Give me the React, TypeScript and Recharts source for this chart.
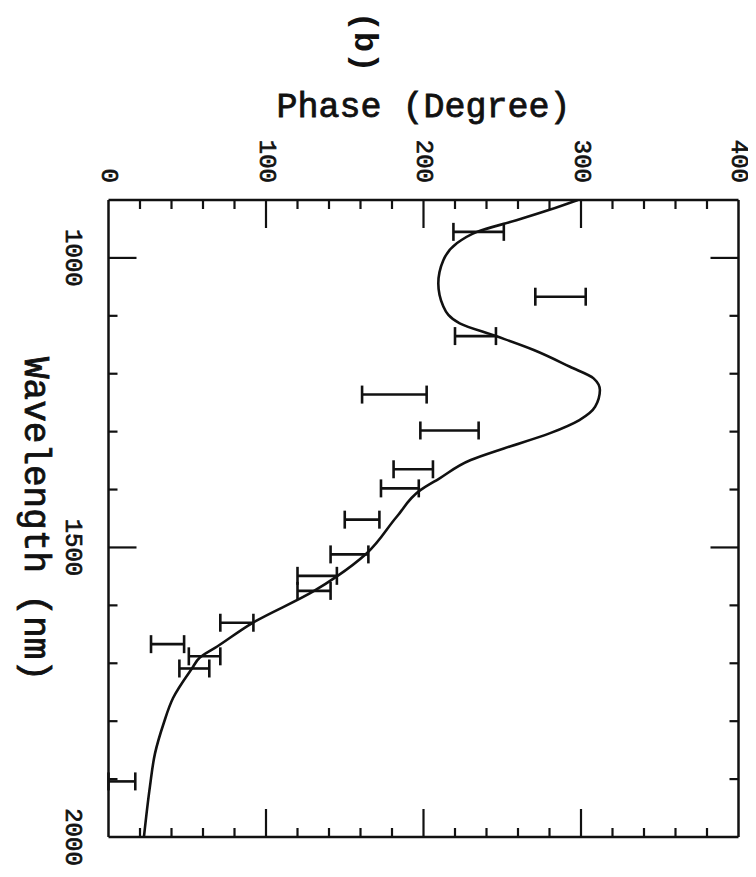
import React from 'react';
import { ComposedChart, Line, Scatter, ErrorBar, XAxis, YAxis } from 'recharts';

// Model curve (wavelength in nm -> phase in degrees)
const curveWavelength = [900, 917, 935, 955, 975, 1004, 1044, 1084, 1113, 1135, 1159, 1188, 1208, 1228, 1257, 1280, 1303, 1329, 1349, 1381, 1401, 1447, 1510, 1550, 1576, 1631, 1671, 1690, 1709, 1760, 1804, 1856, 1913, 2000];
const curvePhase = [298, 280, 259, 234, 221, 212.6, 209.4, 212.6, 223, 246, 270, 293, 308, 312, 309, 299, 280, 251, 230, 210, 198, 183, 164, 145, 130, 91, 69, 58, 53, 41, 35, 29.5, 26.3, 22.5];

// Measured phase ranges (error bars)
const barWavelength = [955, 1067, 1135, 1236, 1298, 1365, 1398, 1452, 1512, 1549, 1575, 1630, 1667, 1688, 1709, 1904];
const barPhaseLow = [219, 271, 220, 161, 198, 181, 173, 150, 141, 120, 120, 71, 27, 51, 45, 0];
const barPhaseHigh = [251, 303, 246, 202, 235, 206, 197, 172, 165, 145, 141, 92, 48, 71, 64, 17];

// Axis ticks
const phaseMajorTicks = [0, 100, 200, 300, 400];
const phaseMinorTicks = [20, 40, 60, 80, 120, 140, 160, 180, 220, 240, 260, 280, 320, 340, 360, 380];
const wavelengthMajorTicks = [1000, 1500, 2000];
const wavelengthMinorTicks = [1100, 1200, 1300, 1400, 1600, 1700, 1800, 1900];

const phaseTicks = [...phaseMajorTicks, ...phaseMinorTicks].sort((a, b) => a - b);
const wavelengthTicks = [...wavelengthMajorTicks, ...wavelengthMinorTicks].sort((a, b) => a - b);

const curveData = curveWavelength.map((wl, i) => ({ wl, phase: curvePhase[i] }));
const barData = barWavelength.map((wl, i) => {
  const lo = barPhaseLow[i];
  const hi = barPhaseHigh[i];
  const c = (lo + hi) / 2;
  return { wl, phase: c, err: [c - lo, hi - c] };
});

const FONT = '"Liberation Mono", "DejaVu Sans Mono", monospace';
const INK = '#111';
const MAJOR = 28;
const MINOR = 9;

const isMajorPhase = (v: number) => phaseMajorTicks.includes(v);
const isMajorWl = (v: number) => wavelengthMajorTicks.includes(v);

const TopTick = (props: any) => {
  const { x, y, payload } = props;
  const v = payload.value;
  const major = isMajorPhase(v);
  const len = major ? MAJOR : MINOR;
  const ly = y - 17;
  return (
    <g>
      {v > 0 && v < 400 && <line x1={x} y1={y} x2={x} y2={y + len} stroke={INK} strokeWidth={2.2} />}
      {major && (
        <text
          x={x}
          y={ly}
          transform={`rotate(90 ${x} ${ly})`}
          textAnchor="end"
          dominantBaseline="central"
          fontFamily={FONT}
          fontSize={24}
          fill={INK}
          stroke={INK}
          strokeWidth={0.7}
        >
          {v}
        </text>
      )}
    </g>
  );
};

const BottomTick = (props: any) => {
  const { x, y, payload } = props;
  const v = payload.value;
  const len = isMajorPhase(v) ? MAJOR : MINOR;
  if (v <= 0 || v >= 400) return <g />;
  return <line x1={x} y1={y} x2={x} y2={y - len} stroke={INK} strokeWidth={2.2} />;
};

const LeftTick = (props: any) => {
  const { x, y, payload } = props;
  const v = payload.value;
  const major = isMajorWl(v);
  const len = major ? MAJOR : MINOR;
  const lx = x - 36;
  return (
    <g>
      {v > 900 && v < 2000 && <line x1={x} y1={y} x2={x + len} y2={y} stroke={INK} strokeWidth={2.2} />}
      {major && (
        <text
          x={lx}
          y={y}
          transform={`rotate(90 ${lx} ${y})`}
          textAnchor="middle"
          dominantBaseline="central"
          fontFamily={FONT}
          fontSize={24}
          fill={INK}
          stroke={INK}
          strokeWidth={0.7}
        >
          {v}
        </text>
      )}
    </g>
  );
};

const RightTick = (props: any) => {
  const { x, y, payload } = props;
  const v = payload.value;
  const len = isMajorWl(v) ? MAJOR : MINOR;
  if (v <= 900 || v >= 2000) return <g />;
  return <line x1={x} y1={y} x2={x - len} y2={y} stroke={INK} strokeWidth={2.2} />;
};

const NoShape = () => <g />;

export default function App() {
  const axisLine = { stroke: INK, strokeWidth: 2.5 };
  return (
    <div style={{ position: 'relative', width: 748, height: 869, background: '#fff' }}>
      <ComposedChart
        width={748}
        height={869}
        layout="vertical"
        margin={{ top: 152, right: 7.5, bottom: 30, left: 40.5 }}
      >
        <XAxis
          xAxisId="t"
          orientation="top"
          type="number"
          dataKey="phase"
          domain={[0, 400]}
          ticks={phaseTicks}
          interval={0}
          height={40}
          tickSize={0}
          tickMargin={0}
          tickLine={false}
          axisLine={axisLine}
          tick={<TopTick />}
          allowDataOverflow
        />
        <XAxis
          xAxisId="b"
          orientation="bottom"
          type="number"
          dataKey="phase"
          domain={[0, 400]}
          ticks={phaseTicks}
          interval={0}
          height={10}
          tickSize={0}
          tickMargin={0}
          tickLine={false}
          axisLine={axisLine}
          tick={<BottomTick />}
          allowDataOverflow
        />
        <YAxis
          yAxisId="l"
          orientation="left"
          type="number"
          dataKey="wl"
          domain={[900, 2000]}
          ticks={wavelengthTicks}
          interval={0}
          width={60}
          tickSize={0}
          tickMargin={0}
          tickLine={false}
          axisLine={axisLine}
          tick={<LeftTick />}
          allowDataOverflow
        />
        <YAxis
          yAxisId="r"
          orientation="right"
          type="number"
          dataKey="wl"
          domain={[900, 2000]}
          ticks={wavelengthTicks}
          interval={0}
          width={10}
          tickSize={0}
          tickMargin={0}
          tickLine={false}
          axisLine={axisLine}
          tick={<RightTick />}
          allowDataOverflow
        />
        <Line
          data={curveData}
          xAxisId="t"
          yAxisId="l"
          dataKey="phase"
          type="monotone"
          dot={false}
          activeDot={false}
          stroke={INK}
          strokeWidth={2.6}
          isAnimationActive={false}
        />
        <Scatter
          data={barData}
          xAxisId="t"
          yAxisId="l"
          dataKey="phase"
          shape={<NoShape />}
          isAnimationActive={false}
        >
          <ErrorBar dataKey="err" direction="x" width={9} stroke={INK} strokeWidth={2.6} isAnimationActive={false} />
        </Scatter>
      </ComposedChart>

      <div
        style={{
          position: 'absolute',
          left: 165.5,
          width: 500,
          top: 83,
          textAlign: 'center',
          fontFamily: FONT,
          fontSize: 35,
          lineHeight: '35px',
          color: INK,
          whiteSpace: 'nowrap',
          WebkitTextStroke: '0.8px #111',
        }}
      >
        Phase (Degree)
      </div>

      <div
        style={{
          position: 'absolute',
          left: 26,
          top: 510.5,
          transform: 'translate(-50%, -50%) rotate(90deg)',
          fontFamily: FONT,
          fontSize: 36,
          lineHeight: '36px',
          color: INK,
          whiteSpace: 'nowrap',
          WebkitTextStroke: '0.8px #111',
        }}
      >
        Wavelength (nm)
      </div>

      <div
        style={{
          position: 'absolute',
          left: 356,
          top: 34,
          transform: 'translate(-50%, -50%) rotate(90deg)',
          fontFamily: FONT,
          fontSize: 34,
          fontWeight: 'bold',
          lineHeight: '34px',
          color: INK,
          whiteSpace: 'nowrap',
        }}
      >
        (b)
      </div>
    </div>
  );
}
